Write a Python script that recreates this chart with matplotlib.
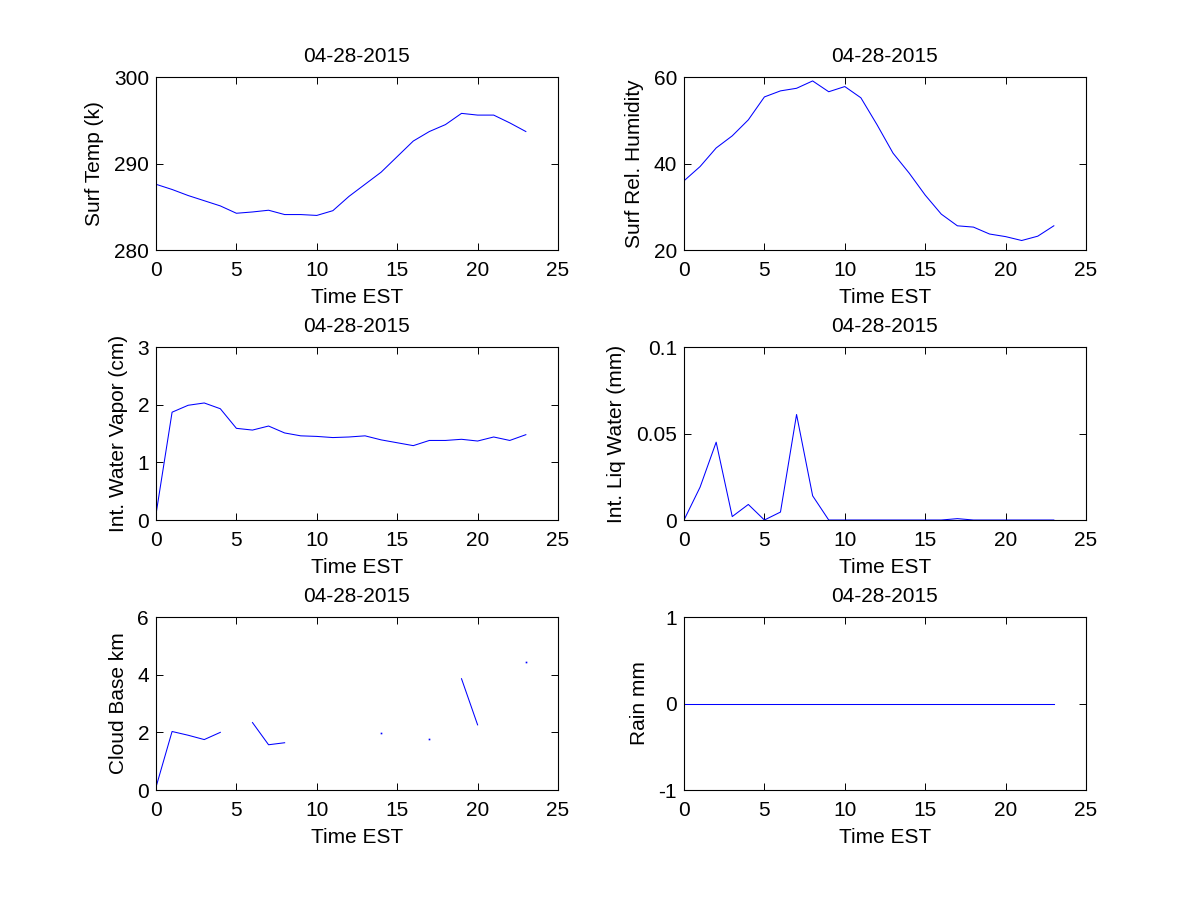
import numpy as np
import matplotlib
matplotlib.use('Agg')
import matplotlib.pyplot as plt

plt.rcParams['font.family'] = ['Liberation Sans', 'DejaVu Sans']
plt.rcParams['font.size'] = 15
plt.rcParams['axes.unicode_minus'] = False

hours = np.arange(24)
date_str = '04-28-2015'

surf_temp = [287.6, 287.0, 286.3, 285.7, 285.1, 284.25, 284.4, 284.6,
             284.1, 284.1, 284.0, 284.55, 286.2, 287.6, 289.0, 290.8,
             292.6, 293.7, 294.5, 295.8, 295.6, 295.6, 294.7, 293.7]
surf_rh = [36.0, 39.3, 43.6, 46.4, 50.1, 55.4, 56.8, 57.4, 59.1, 56.6,
           57.8, 55.2, 49.0, 42.4, 37.8, 32.7, 28.3, 25.6, 25.3, 23.7,
           23.1, 22.2, 23.2, 25.6]
water_vapor = [0.1, 1.87, 1.99, 2.03, 1.93, 1.59, 1.56, 1.63, 1.51, 1.46,
               1.45, 1.43, 1.44, 1.46, 1.39, 1.34, 1.29, 1.38, 1.38, 1.40,
               1.37, 1.44, 1.38, 1.48]
liq_water = [0.0, 0.019, 0.045, 0.002, 0.009, 0.0, 0.0046, 0.061, 0.014,
             0.0, 0.0, 0.0, 0.0, 0.0, 0.0, 0.0, 0.0, 0.0008, 0.0, 0.0,
             0.0, 0.0, 0.0, 0.0]
nan = np.nan
cloud_base = [0.1, 2.03, 1.9, 1.75, 2.0, nan, 2.34, 1.57, 1.64, nan, nan,
              nan, nan, nan, 1.99, nan, nan, 1.76, nan, 3.86, 2.26, nan,
              nan, 4.45]
rain = [0.0] * 24

panels = [
    (surf_temp, 'Surf Temp (k)', (280, 300), [280, 290, 300],
     ['280', '290', '300']),
    (surf_rh, 'Surf Rel. Humidity', (20, 60), [20, 40, 60],
     ['20', '40', '60']),
    (water_vapor, 'Int. Water Vapor (cm)', (0, 3), [0, 1, 2, 3],
     ['0', '1', '2', '3']),
    (liq_water, 'Int. Liq Water (mm)', (0, 0.1), [0, 0.05, 0.1],
     ['0', '0.05', '0.1']),
    (cloud_base, 'Cloud Base km', (0, 6), [0, 2, 4, 6],
     ['0', '2', '4', '6']),
    (rain, 'Rain mm', (-1, 1), [-1, 0, 1], ['-1', '0', '1']),
]


def isolated(vals):
    # points with no neighbour on either side, which a plain line skips
    v = np.array(vals, dtype=float)
    ok = ~np.isnan(v)
    prev_ok = np.r_[False, ok[:-1]]
    next_ok = np.r_[ok[1:], False]
    return ok & ~prev_ok & ~next_ok


fig = plt.figure(figsize=(12, 9), dpi=100)
lefts = [0.13, 0.57]
bottoms = [0.7222, 0.4222, 0.1222]

for i, (vals, ylab, ylim, yt, ytl) in enumerate(panels):
    ax = fig.add_axes([lefts[i % 2], bottoms[i // 2], 0.335, 0.1922])
    ax.plot(hours, vals, color='b', lw=0.75)
    lone = isolated(vals)
    if lone.any():
        ax.plot(hours[lone], np.array(vals)[lone], ls='none', marker='s',
                ms=1.2, color='b', mew=0)
    ax.set_xlim(0, 25)
    ax.set_ylim(*ylim)
    ax.set_xticks([0, 5, 10, 15, 20, 25])
    ax.set_yticks(yt)
    ax.set_yticklabels(ytl)
    ax.tick_params(direction='in', top=True, right=True, length=5,
                   width=0.7)
    ax.tick_params(axis='x', pad=8)
    ax.tick_params(axis='y', pad=5)
    for sp in ax.spines.values():
        sp.set_linewidth(0.8)
    ax.set_xlabel('Time EST', labelpad=6)
    ax.set_ylabel(ylab, labelpad=7)
    ax.set_title(date_str, pad=11, fontsize=15)

fig.savefig('out.png', dpi=100)
